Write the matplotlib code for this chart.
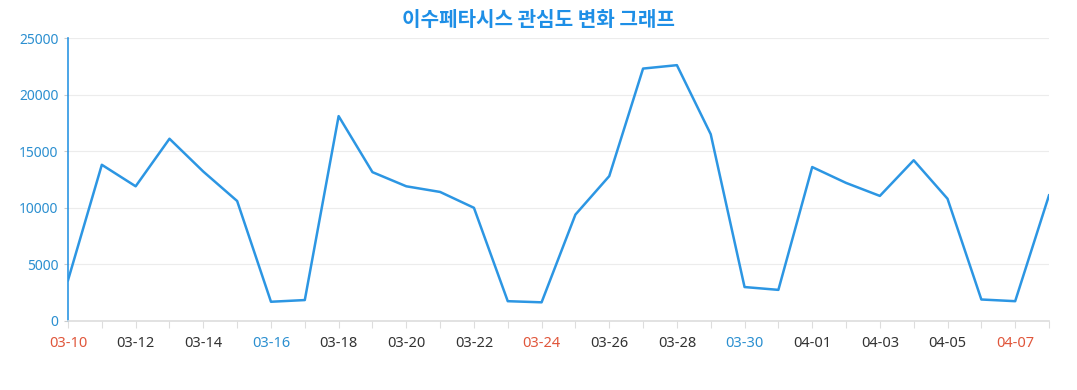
import matplotlib
matplotlib.use("Agg")
import matplotlib.pyplot as plt

plt.rcParams["font.family"] = ["Noto Sans CJK KR", "DejaVu Sans"]

# ---------------------------------------------------------------------------
# Data
# ---------------------------------------------------------------------------
dates = ["03-10", "03-11", "03-12", "03-13", "03-14", "03-15", "03-16", "03-17",
         "03-18", "03-19", "03-20", "03-21", "03-22", "03-23", "03-24", "03-25",
         "03-26", "03-27", "03-28", "03-29", "03-30", "03-31", "04-01", "04-02",
         "04-03", "04-04", "04-05", "04-06", "04-07", "04-08"]
interest = [3600, 13800, 11900, 16100, 13200, 10600, 1700, 1850,
            18100, 13150, 11900, 11400, 10000, 1750, 1650, 9400,
            12800, 22300, 22600, 16500, 3000, 2750, 13600, 12200,
            11050, 14200, 10800, 1900, 1750, 11100]
saturdays = ["03-16", "03-30"]
sundays = ["03-10", "03-24", "04-07"]
y_ticks = [0, 5000, 10000, 15000, 20000, 25000]

LINE = "#2c96e3"
BLUE_TXT = "#2b8fd0"
RED_TXT = "#e0563b"

fig = plt.figure(figsize=(10.77, 3.90), dpi=100)
ax = fig.add_axes([68 / 1077, 1 - 321 / 390, (1049 - 68) / 1077, (321 - 38) / 390])

x = list(range(len(dates)))
ax.plot(x, interest, color=LINE, linewidth=1.8)

ax.set_xlim(0, len(dates) - 1)
ax.set_ylim(0, 25000)

ax.set_yticks(y_ticks)
ax.set_yticklabels([str(v) for v in y_ticks], color=BLUE_TXT, fontsize=10,
                   family=["Noto Sans", "DejaVu Sans"])
ax.tick_params(axis="y", length=3, color="#cccccc", pad=4)
ax.grid(axis="y", color="#ececec", linewidth=0.8)
ax.set_axisbelow(True)

ax.set_xticks(x)
labels = [d if i % 2 == 0 else "" for i, d in enumerate(dates)]
ax.set_xticklabels(labels, fontsize=10.5, family=["Noto Sans", "DejaVu Sans"])
for lbl, d in zip(ax.get_xticklabels(), dates):
    if d in sundays:
        lbl.set_color(RED_TXT)
    elif d in saturdays:
        lbl.set_color(BLUE_TXT)
    else:
        lbl.set_color("#333333")
ax.tick_params(axis="x", length=5, color="#dddddd", pad=6)

for side in ("top", "right"):
    ax.spines[side].set_visible(False)
ax.spines["bottom"].set_color("#dddddd")
ax.spines["bottom"].set_linewidth(1.2)
ax.spines["left"].set_color(LINE)
ax.spines["left"].set_linewidth(1.2)

fig.text(0.5, 1 - 20 / 390, "이수페타시스 관심도 변화 그래프", ha="center", va="center",
         fontsize=14.5, fontweight="bold", color="#1e8fe6")

fig.savefig("out.png", dpi=100)
